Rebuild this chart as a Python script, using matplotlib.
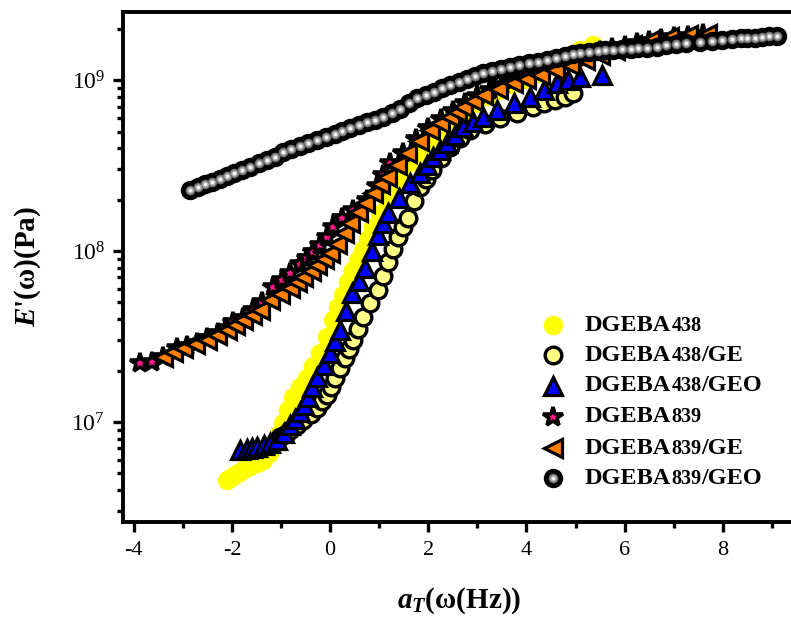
import numpy as np
import matplotlib
matplotlib.use('Agg')
import matplotlib.pyplot as plt
from matplotlib.ticker import MultipleLocator, LogLocator, FuncFormatter, NullFormatter

plt.rcParams['font.family'] = 'Liberation Serif'
plt.rcParams['mathtext.fontset'] = 'custom'
plt.rcParams['mathtext.rm'] = 'Liberation Serif'
plt.rcParams['mathtext.bf'] = 'Liberation Serif:bold'
plt.rcParams['mathtext.bfit'] = 'Liberation Serif:italic:bold'
plt.rcParams['mathtext.it'] = 'Liberation Serif:italic'

# master curves, shifted frequency vs storage modulus (Pa)
x_438 = [-2.10, -1.98, -1.87, -1.75, -1.63, -1.50, -1.36, -1.24, -1.12, -1.04,
         -0.96, -0.86, -0.75, -0.61, -0.47, -0.34, -0.20, -0.07, 0.06, 0.16,
         0.26, 0.37, 0.47, 0.57, 0.67, 0.78, 0.88, 1.02, 1.16, 1.30,
         1.43, 1.62, 1.80, 2.00, 2.20, 2.45, 2.70, 2.95, 3.20, 3.45,
         3.70, 3.95, 4.20, 4.50, 4.80, 5.10, 5.36]
e_438 = [4.58e6, 4.80e6, 5.04e6, 5.28e6, 5.53e6, 5.75e6, 6.00e6, 6.60e6, 7.40e6, 8.50e6,
         9.86e6, 1.18e7, 1.40e7, 1.60e7, 1.81e7, 2.12e7, 2.54e7, 3.15e7, 3.94e7, 4.70e7,
         5.53e7, 6.55e7, 7.74e7, 8.85e7, 1.01e8, 1.18e8, 1.38e8, 1.65e8, 1.99e8, 2.40e8,
         2.86e8, 3.30e8, 3.75e8, 4.35e8, 5.00e8, 5.75e8, 6.50e8, 7.30e8, 8.10e8, 8.80e8,
         9.50e8, 1.02e9, 1.10e9, 1.22e9, 1.36e9, 1.49e9, 1.60e9]

x_438_ge = [-1.02, -0.90, -0.81, -0.68, -0.55, -0.40, -0.26, -0.16, -0.06, 0.02,
            0.10, 0.20, 0.31, 0.39, 0.47, 0.57, 0.67, 0.82, 0.98, 1.08,
            1.18, 1.28, 1.38, 1.48, 1.59, 1.70, 1.83, 1.95, 2.08, 2.25,
            2.44, 2.65, 2.85, 3.15, 3.46, 3.80, 4.13, 4.35, 4.58, 4.78, 4.95]
e_438_ge = [8.17e6, 8.55e6, 8.97e6, 9.60e6, 1.03e7, 1.12e7, 1.21e7, 1.32e7, 1.44e7, 1.60e7,
            1.81e7, 2.07e7, 2.37e7, 2.68e7, 3.02e7, 3.52e7, 4.11e7, 4.95e7, 5.92e7, 7.10e7,
            8.63e7, 1.03e8, 1.21e8, 1.38e8, 1.56e8, 1.95e8, 2.37e8, 2.65e8, 2.98e8, 3.50e8,
            4.06e8, 4.60e8, 5.11e8, 5.55e8, 6.00e8, 6.45e8, 6.95e8, 7.30e8, 7.64e8, 8.00e8, 8.39e8]

x_438_geo = [-1.83, -1.70, -1.60, -1.49, -1.35, -1.22, -1.08, -0.95, -0.81, -0.71,
             -0.61, -0.53, -0.45, -0.36, -0.26, -0.13, 0.00, 0.10, 0.20, 0.33,
             0.45, 0.58, 0.71, 0.85, 0.98, 1.08, 1.18, 1.40, 1.63, 1.83,
             1.97, 2.10, 2.24, 2.38, 2.55, 2.71, 2.92, 3.12, 3.40, 3.75,
             4.07, 4.35, 4.62, 4.85, 5.09, 5.54]
e_438_geo = [6.86e6, 6.95e6, 7.02e6, 7.14e6, 7.30e6, 7.55e6, 7.85e6, 8.60e6, 9.59e6, 1.04e7,
             1.14e7, 1.26e7, 1.40e7, 1.60e7, 1.83e7, 2.15e7, 2.54e7, 2.98e7, 3.45e7, 4.45e7,
             5.68e7, 6.70e7, 7.96e7, 1.00e8, 1.24e8, 1.45e8, 1.67e8, 2.05e8, 2.50e8, 2.86e8,
             3.20e8, 3.55e8, 3.90e8, 4.29e8, 4.80e8, 5.31e8, 5.70e8, 6.08e8, 6.68e8, 7.30e8,
             7.96e8, 8.80e8, 9.59e8, 1.00e9, 1.04e9, 1.07e9]

x_839 = [-3.87, -3.63, -3.40, -3.12, -2.92, -2.71, -2.50, -2.28, -2.12, -1.98,
         -1.77, -1.58, -1.38, -1.16, -0.98, -0.81, -0.61, -0.47, -0.35, -0.20,
         -0.06, 0.06, 0.25, 0.47, 0.75, 0.95, 1.08, 1.22, 1.49, 1.75,
         2.00, 2.25, 2.50, 2.75, 3.00, 3.25, 3.50, 3.75, 4.00, 4.25,
         4.50, 4.75, 5.00, 5.25, 5.50, 5.75, 6.00, 6.25, 6.50, 6.75,
         7.00, 7.30, 7.60]
e_839 = [2.21e7, 2.24e7, 2.40e7, 2.71e7, 2.80e7, 2.90e7, 3.10e7, 3.31e7, 3.55e7, 3.85e7,
         4.06e7, 4.50e7, 5.04e7, 6.15e7, 6.80e7, 7.43e7, 8.39e7, 9.10e7, 9.86e7, 1.09e8,
         1.21e8, 1.38e8, 1.55e8, 1.74e8, 1.99e8, 2.40e8, 2.80e8, 3.27e8, 3.74e8, 4.50e8,
         5.25e8, 5.90e8, 6.60e8, 7.30e8, 8.10e8, 8.70e8, 9.30e8, 1.00e9, 1.07e9, 1.13e9,
         1.20e9, 1.27e9, 1.35e9, 1.42e9, 1.48e9, 1.53e9, 1.58e9, 1.64e9, 1.70e9, 1.74e9,
         1.78e9, 1.82e9, 1.86e9]

x_839_ge = [-3.40, -3.20, -2.99, -2.75, -2.51, -2.30, -2.10, -1.93, -1.77, -1.60,
            -1.43, -1.22, -1.02, -0.81, -0.68, -0.55, -0.40, -0.26, -0.13, 0.00,
            0.14, 0.28, 0.41, 0.57, 0.72, 0.88, 1.02, 1.16, 1.36, 1.57,
            1.80, 2.04, 2.24, 2.44, 2.58, 2.71, 2.92, 3.12, 3.42, 3.73,
            4.00, 4.28, 4.58, 4.88, 5.20, 5.50, 5.80, 6.15, 6.52, 6.90, 7.30, 7.68]
e_839_ge = [2.40e7, 2.55e7, 2.71e7, 2.86e7, 3.02e7, 3.22e7, 3.45e7, 3.68e7, 3.94e7, 4.22e7,
            4.52e7, 5.16e7, 5.60e7, 6.08e7, 6.55e7, 7.05e7, 7.65e7, 8.28e7, 8.95e7, 9.73e7,
            1.10e8, 1.28e8, 1.46e8, 1.68e8, 1.92e8, 2.18e8, 2.45e8, 2.71e8, 3.20e8, 3.74e8,
            4.40e8, 5.11e8, 5.60e8, 6.08e8, 6.50e8, 6.95e8, 7.55e8, 8.17e8, 8.90e8, 9.59e8,
            1.01e9, 1.07e9, 1.14e9, 1.22e9, 1.31e9, 1.40e9, 1.50e9, 1.60e9, 1.71e9, 1.78e9, 1.83e9, 1.86e9]

x_839_geo = [-2.85, -2.70, -2.55, -2.40, -2.25, -2.10, -1.95, -1.80, -1.63, -1.45,
             -1.28, -1.12, -0.96, -0.80, -0.62, -0.45, -0.26, -0.08, 0.10, 0.25,
             0.41, 0.58, 0.75, 0.92, 1.08, 1.25, 1.42, 1.60, 1.77, 1.95,
             2.12, 2.28, 2.44, 2.62, 2.78, 2.95, 3.12, 3.30, 3.48, 3.67,
             3.85, 4.05, 4.23, 4.42, 4.60, 4.78, 4.95, 5.09, 5.28, 5.45,
             5.60, 5.76, 5.95, 6.12, 6.28, 6.46, 6.66, 6.85, 7.05, 7.25,
             7.54, 7.78, 7.98, 8.18, 8.36, 8.49, 8.65, 8.80, 8.95, 9.10]
e_839_geo = [2.28e8, 2.36e8, 2.45e8, 2.55e8, 2.64e8, 2.74e8, 2.85e8, 2.97e8, 3.10e8, 3.25e8,
             3.40e8, 3.57e8, 3.79e8, 3.95e8, 4.12e8, 4.28e8, 4.46e8, 4.65e8, 4.85e8, 5.05e8,
             5.24e8, 5.45e8, 5.65e8, 5.85e8, 6.08e8, 6.40e8, 6.80e8, 7.35e8, 7.85e8, 8.15e8,
             8.55e8, 8.95e8, 9.35e8, 9.70e8, 1.01e9, 1.05e9, 1.10e9, 1.13e9, 1.16e9, 1.19e9,
             1.22e9, 1.25e9, 1.28e9, 1.31e9, 1.35e9, 1.39e9, 1.42e9, 1.44e9, 1.46e9, 1.48e9,
             1.49e9, 1.50e9, 1.51e9, 1.52e9, 1.53e9, 1.54e9, 1.57e9, 1.60e9, 1.62e9, 1.64e9,
             1.67e9, 1.70e9, 1.72e9, 1.74e9, 1.75e9, 1.76e9, 1.77e9, 1.78e9, 1.80e9, 1.81e9]

# marker style per sample
styles = {
    'DGEBA438': dict(marker='o', ms=14, mfc='#ffff00', mec='#ffff00', mew=0),
    'DGEBA438/GE': dict(marker='o', ms=12, mfc='#ffff88', mec='black', mew=2.4),
    'DGEBA438/GEO': dict(marker='^', ms=13, mfc='#0000ff', mec='black', mew=2.3),
    'DGEBA839': dict(marker='*', ms=15, mfc='#ff1a8c', mec='black', mew=2.6),
    'DGEBA839/GE': dict(marker='<', ms=13, mfc='#ff8000', mec='black', mew=2.3),
    'DGEBA839/GEO': dict(marker='o', ms=14, mfc='black', mec='black', mew=0),
}
series = [('DGEBA438', x_438, e_438), ('DGEBA438/GE', x_438_ge, e_438_ge),
          ('DGEBA438/GEO', x_438_geo, e_438_geo), ('DGEBA839', x_839, e_839),
          ('DGEBA839/GE', x_839_ge, e_839_ge), ('DGEBA839/GEO', x_839_geo, e_839_geo)]


def sphere_shine(ax, x, y, **kw):
    # grey-to-white highlight on top of the black spheres
    ax.plot(x, y, ls='none', marker='o', ms=7, mfc='#6e6e6e', mew=0, **kw)
    ax.plot(x, y, ls='none', marker='o', ms=4.6, mfc='#b8b8b8', mew=0, **kw)
    ax.plot(x, y, ls='none', marker='o', ms=2.3, mfc='white', mew=0, **kw)


fig = plt.figure(figsize=(7.91, 6.22), dpi=100)
ax = fig.add_axes([123/791, 100/622, 672/791, 510/622])

for name, xs, ys in series:
    ax.plot(xs, ys, ls='none', **styles[name])
sphere_shine(ax, x_839_geo, e_839_geo)

ax.set_yscale('log')
ax.set_xlim(-4.22, 9.47)
ax.set_ylim(2.6e6, 2.5e9)

ax.xaxis.set_major_locator(MultipleLocator(2))
ax.xaxis.set_minor_locator(MultipleLocator(1))
ax.xaxis.set_major_formatter(FuncFormatter(lambda v, p: '%d' % v))
ax.yaxis.set_major_locator(LogLocator(base=10))
ax.yaxis.set_minor_locator(LogLocator(base=10, subs=np.arange(2, 10)))
ax.yaxis.set_major_formatter(FuncFormatter(lambda v, p: r'$\mathregular{10^{%d}}$' % round(np.log10(v))))
ax.yaxis.set_minor_formatter(NullFormatter())

ax.tick_params(which='both', direction='out', top=False, right=False, width=2.4, labelsize=16)
ax.tick_params(which='major', length=7, pad=7)
ax.tick_params(which='minor', length=4)
ax.tick_params(axis='y', labelsize=17, pad=6)
for s in ['left', 'bottom', 'top']:
    ax.spines[s].set_linewidth(2.8)
ax.spines['right'].set_visible(False)

ax.set_xlabel(r'$\mathbfit{a}_{\mathbfit{T}}$(ω(Hz))', fontsize=21, fontweight='bold', labelpad=18)
ax.set_ylabel(r"$\mathbfit{E}$'(ω)(Pa)", fontsize=21, fontweight='bold', labelpad=20)

# legend drawn by hand so the grade number can be set smaller
rows = [0.386, 0.327, 0.267, 0.206, 0.145, 0.086]
for (name, xs, ys), ry in zip(series, rows):
    ax.plot([0.640], [ry], ls='none', transform=ax.transAxes, clip_on=False, **styles[name])
    if name == 'DGEBA839/GEO':
        sphere_shine(ax, [0.640], [ry], transform=ax.transAxes, clip_on=False)
    grade = name[5:8]
    rest = name[8:]
    t1 = ax.text(0.6875, ry, 'DGEBA', transform=ax.transAxes, fontsize=17.5,
                 fontweight='bold', va='center', ha='left')
    t2 = ax.annotate(grade, xy=(1, 0), xycoords=t1, fontsize=14.5, fontweight='bold',
                     va='bottom', ha='left')
    if rest:
        ax.annotate(rest, xy=(1, 0), xycoords=t2, fontsize=17.5, fontweight='bold',
                    va='bottom', ha='left')

fig.savefig('out.png', dpi=100)
